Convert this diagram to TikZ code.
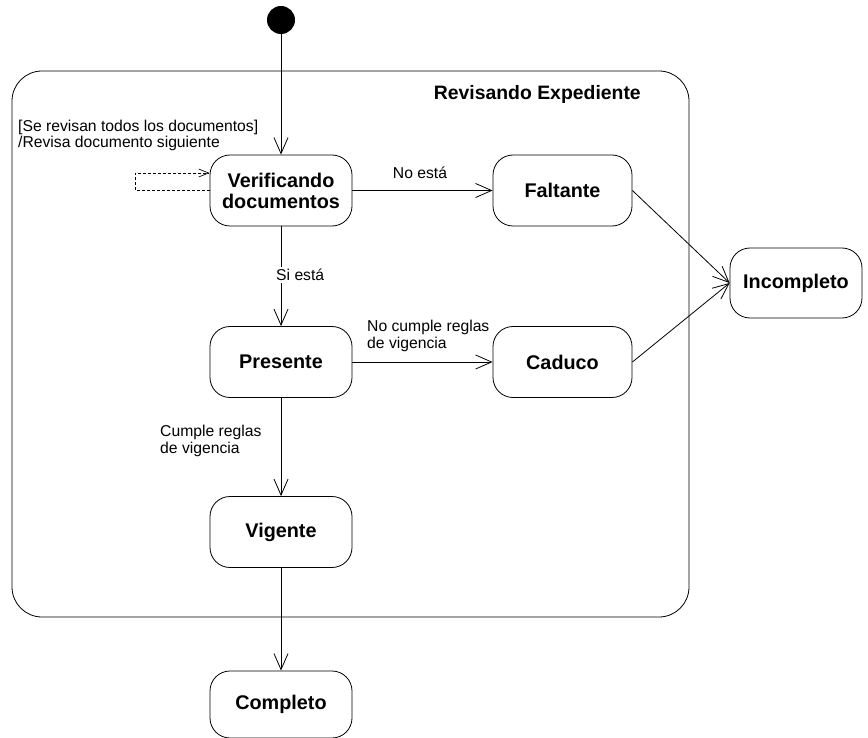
\documentclass[tikz,border=0pt]{standalone}
\usepackage{fontspec}
\setmainfont{Liberation Sans}
\usetikzlibrary{arrows.meta}
\begin{document}
\begin{tikzpicture}[x=1pt,y=-1pt,
  stbox/.style={draw, line width=0.8pt, rounded corners=20pt, minimum width=142pt,
    minimum height=71pt, inner sep=2pt, align=center,
    font=\fontsize{19.8}{21}\selectfont\bfseries},
  lbl/.style={font=\fontsize{15.7}{16.5}\selectfont, align=left, inner sep=1pt},
  tr/.style={line width=0.8pt, -{Straight Barb[length=16pt,width=14pt,line width=0.8pt]}},
  ]
\useasboundingbox (0,0) rectangle (868,738);

% composite state
\node[draw, line width=0.8pt, rounded corners=30pt, minimum width=677pt, minimum height=546pt,
  inner sep=0pt] (rev) at (350.5,344) {};
\node[anchor=east, font=\fontsize{19.4}{21}\selectfont\bfseries, inner sep=0pt] (revt) at (641,94) {Revisando Expediente};

% initial pseudostate
\node[circle, fill=black, minimum size=28pt, inner sep=0pt] (ini) at (281,20) {};

% states
\node[stbox] (verif) at (281,190.5) {Verificando\\documentos};
\node[stbox, minimum width=139pt] (falt) at (562.5,190.5) {Faltante};
\node[stbox] (pres) at (281,362) {Presente};
\node[stbox, minimum width=139pt] (cad) at (562.5,362) {Caduco};
\node[stbox] (vig) at (281,532) {Vigente};
\node[stbox, minimum width=132pt, minimum height=70pt] (inc) at (796,283) {Incompleto};
\node[stbox, minimum height=67pt] (comp) at (281,704.5) {Completo};

% transitions
\draw[tr] (ini) -- (verif);
\draw[tr] (verif) -- (falt);
\draw[tr] (verif) -- (pres);
\draw[tr] (pres) -- (cad);
\draw[tr] (pres) -- (vig);
\draw[tr] (vig) -- (comp);
\draw[tr] (falt.east) -- (inc.west);
\draw[tr] (cad.east) -- (inc.west);

% internal transition loop
\coordinate (la) at (135,173);
\coordinate (lb) at (135,190.5);
\draw[dashed, line width=0.7pt, dash pattern=on 3pt off 2pt,
  -{Straight Barb[length=10pt,width=8pt,line width=0.7pt]}]
  (verif.west) -- (lb) -- (la) -- (la -| verif.west);

% labels
\node[lbl, anchor=west] (l1) at (17,135.5) {[Se revisan todos los documentos]\\/Revisa documento siguiente};
\node[lbl] (l2) at (420,173) {No está};
\node[lbl, anchor=west, fill=white, inner sep=2pt] (l3) at (274,275) {Si está};
\node[lbl, anchor=west] (l4) at (366,336) {No cumple reglas\\de vigencia};
\node[lbl, anchor=west] (l5) at (159,441) {Cumple reglas\\de vigencia};
\end{tikzpicture}
\end{document}
